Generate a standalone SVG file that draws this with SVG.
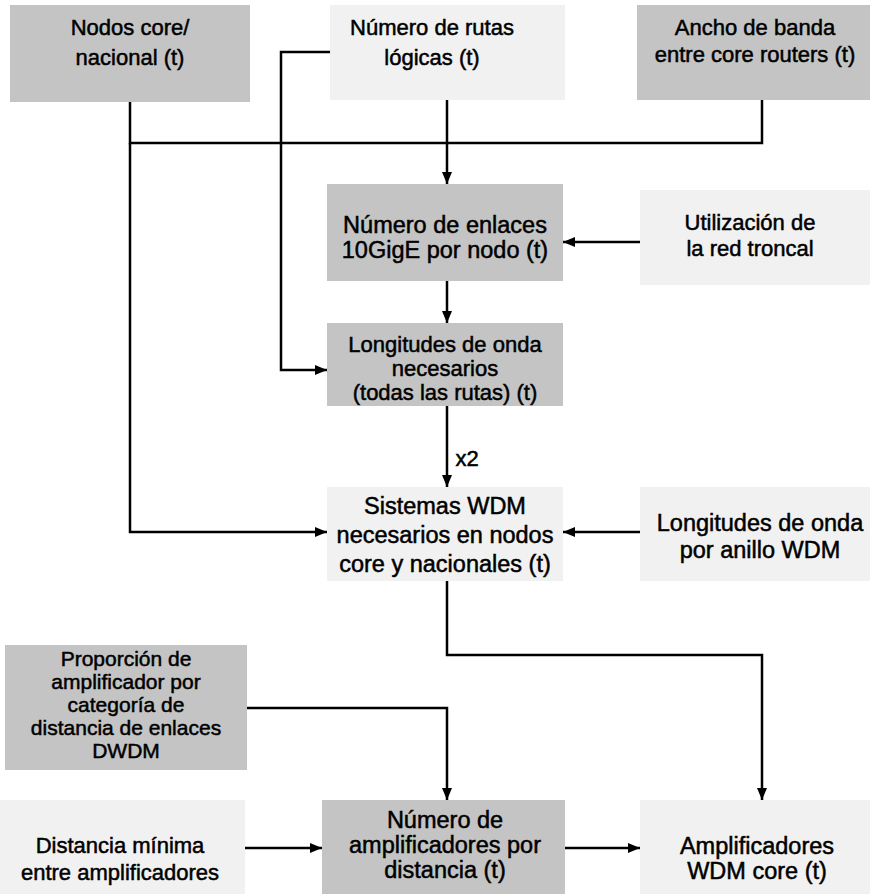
<svg xmlns="http://www.w3.org/2000/svg" width="870" height="894" viewBox="0 0 870 894">
<defs>
<marker id="ah" viewBox="0 0 12 10" refX="12" refY="5" markerWidth="12" markerHeight="10" markerUnits="userSpaceOnUse" orient="auto">
<path d="M0,0 L12,5 L0,10 z" fill="#000"/>
</marker>
</defs>
<style>
.dark{fill:#c4c4c4}
.light{fill:#f1f1f1}
text{font-family:"Liberation Sans",Arial,sans-serif;font-size:22px;fill:#000;text-anchor:middle;stroke:#000;stroke-width:0.5}
.big{font-size:23.5px}
.sm{font-size:21px}
.c{fill:none;stroke:#000;stroke-width:2.5}
.a{marker-end:url(#ah)}
</style>
<rect width="870" height="894" fill="#fff"/>
<g id="nodos">
<rect class="dark" x="10" y="5" width="240" height="97"/>
<text x="130" y="35">Nodos core/</text>
<text x="130" y="65">nacional (t)</text>
</g>
<g id="rutas">
<rect class="light" x="330" y="5" width="235" height="95"/>
<text x="432" y="35">Número de rutas</text>
<text x="432" y="65">lógicas (t)</text>
</g>
<g id="ancho">
<rect class="dark" x="637" y="5" width="233" height="95"/>
<text x="755" y="35">Ancho de banda</text>
<text x="755" y="62">entre core routers (t)</text>
</g>
<g id="enlaces">
<rect class="dark" x="327" y="184" width="236" height="97"/>
<text class="big" x="445" y="233">Número de enlaces</text>
<text class="big" x="445" y="258">10GigE por nodo (t)</text>
</g>
<g id="utilizacion">
<rect class="light" x="640" y="190" width="230" height="95"/>
<text x="750" y="230">Utilización de</text>
<text x="750" y="256">la red troncal</text>
</g>
<g id="longitudes">
<rect class="dark" x="327" y="323" width="236" height="83"/>
<text x="445" y="352">Longitudes de onda</text>
<text x="445" y="376">necesarios</text>
<text x="445" y="400">(todas las rutas) (t)</text>
</g>
<g id="sistemas">
<rect class="light" x="327" y="487" width="236" height="94"/>
<text class="big" x="445" y="514">Sistemas WDM</text>
<text class="big" x="445" y="543">necesarios en nodos</text>
<text class="big" x="445" y="572">core y nacionales (t)</text>
</g>
<g id="anillo">
<rect class="light" x="640" y="487" width="230" height="94"/>
<text class="big" x="760" y="531">Longitudes de onda</text>
<text class="big" x="760" y="558">por anillo WDM</text>
</g>
<g id="proporcion">
<rect class="dark" x="5" y="645" width="242" height="125"/>
<text class="sm" x="126" y="666">Proporción de</text>
<text class="sm" x="126" y="689">amplificador por</text>
<text class="sm" x="126" y="712">categoría de</text>
<text class="sm" x="126" y="735">distancia de enlaces</text>
<text class="sm" x="126" y="758">DWDM</text>
</g>
<g id="distancia">
<rect class="light" x="0" y="800" width="245" height="94"/>
<text x="120" y="853">Distancia mínima</text>
<text x="120" y="880">entre amplificadores</text>
</g>
<g id="numamp">
<rect class="dark" x="322" y="800" width="243" height="94"/>
<text class="big" x="445" y="828">Número de</text>
<text class="big" x="445" y="853">amplificadores por</text>
<text class="big" x="445" y="878">distancia (t)</text>
</g>
<g id="ampcore">
<rect class="light" x="640" y="800" width="230" height="94"/>
<text class="big" x="757" y="854">Amplificadores</text>
<text class="big" x="757" y="879">WDM core (t)</text>
</g>
<g id="connectors">
<polyline class="c" points="130,102 130,143 762,143 762,100"/>
<polyline class="c a" points="130,143 130,532 327,532"/>
<polyline class="c a" points="330,52 281,52 281,370 327,370"/>
<polyline class="c a" points="447,100 447,184"/>
<polyline class="c a" points="640,242 563,242"/>
<polyline class="c a" points="447,281 447,323"/>
<polyline class="c a" points="447,406 447,487"/>
<text x="467" y="466">x2</text>
<polyline class="c a" points="640,532 563,532"/>
<polyline class="c a" points="447,581 447,655 762,655 762,800"/>
<polyline class="c a" points="247,708 447,708 447,800"/>
<polyline class="c a" points="245,848 322,848"/>
<polyline class="c a" points="565,848 640,848"/>
</g>
</svg>
